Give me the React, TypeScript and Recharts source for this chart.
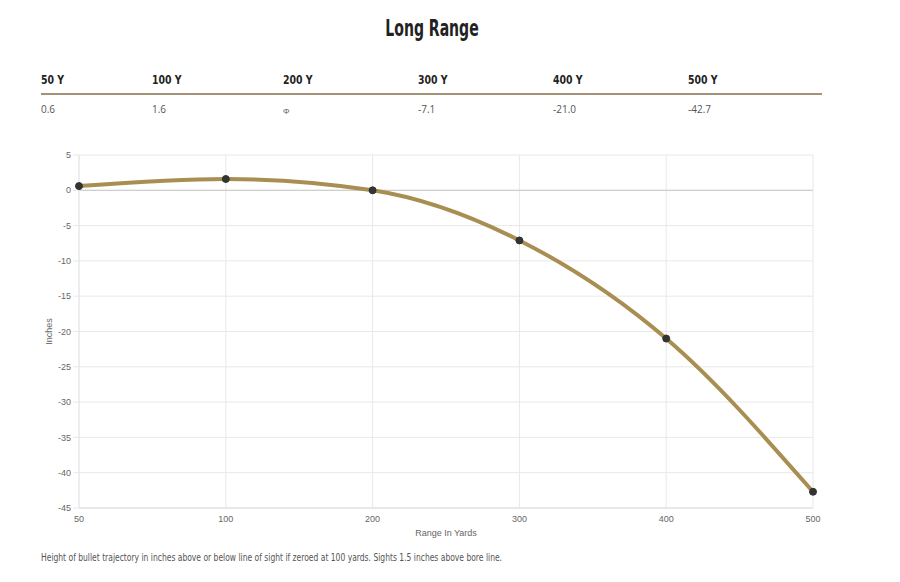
import React from "react";
import { LineChart, Line, XAxis, YAxis, CartesianGrid, ReferenceLine, Label } from "recharts";

const yards = ["50", "100", "200", "300", "400", "500"];
const drop = [0.6, 1.6, 0, -7.1, -21.0, -42.7];
const tableHeaders = ["50 Y", "100 Y", "200 Y", "300 Y", "400 Y", "500 Y"];
const tableValues = ["0.6", "1.6", "Φ", "-7.1", "-21.0", "-42.7"];
const yTicks = [5, 0, -5, -10, -15, -20, -25, -30, -35, -40, -45];

const data = yards.map((y, i) => ({ yards: y, drop: drop[i] }));

const colX = [41, 152, 283, 418, 553, 688];
const heading = "'DejaVu Sans', sans-serif";

export default function App() {
  return (
    <div style={{ position: "absolute", left: 0, top: 0, width: 900, height: 582, background: "#fff" }}>
      <div
        style={{
          position: "absolute",
          left: 0,
          width: 864,
          top: 15,
          textAlign: "center",
          fontFamily: heading,
          fontWeight: 700,
          fontSize: 23,
          color: "#222",
          transform: "scaleX(0.61)",
          transformOrigin: "432px 0",
          whiteSpace: "nowrap",
        }}
      >
        Long Range
      </div>
      {tableHeaders.map((h, i) => (
        <div
          key={h}
          style={{
            position: "absolute",
            left: colX[i],
            top: 73,
            fontFamily: heading,
            fontWeight: 700,
            fontSize: 12,
            color: "#222",
            transform: "scaleX(0.78)",
            transformOrigin: "0 0",
            whiteSpace: "nowrap",
          }}
        >
          {h}
        </div>
      ))}
      <div style={{ position: "absolute", left: 41, top: 93, width: 781, height: 2, background: "#a39276" }} />
      {tableValues.map((v, i) => (
        <div
          key={i}
          style={{
            position: "absolute",
            left: colX[i],
            top: v === "Φ" ? 105 : 102,
            fontFamily: "'Open Sans', sans-serif",
            fontSize: v === "Φ" ? 8 : 10,
            color: "#555",
          }}
        >
          {v}
        </div>
      ))}
      <div style={{ position: "absolute", left: 0, top: 0 }}>
        <LineChart width={900} height={545} data={data} margin={{ top: 155, right: 87, bottom: 7, left: 29 }}>
          <CartesianGrid stroke="#e8e8e8" strokeWidth={1} />
          <XAxis
            dataKey="yards"
            tick={{ fontSize: 9, fill: "#666", fontFamily: "'Liberation Sans', Arial, sans-serif" }}
            tickLine={false}
            axisLine={{ stroke: "#ddd" }}
            interval={0}
            height={30}
          >
            <Label value="Range In Yards" position="insideBottom" offset={2} style={{ fontSize: 9, fill: "#666", fontFamily: "'Liberation Sans', Arial, sans-serif" }} />
          </XAxis>
          <YAxis
            domain={[-45, 5]}
            ticks={yTicks}
            interval={0}
            width={50}
            tick={{ fontSize: 9, fill: "#666", fontFamily: "'Liberation Sans', Arial, sans-serif" }}
            tickLine={{ stroke: "#e8e8e8" }}
            tickSize={6}
            axisLine={{ stroke: "#e8e8e8" }}
          >
            <Label value="Inches" angle={-90} position="insideLeft" offset={20} style={{ fontSize: 9, fill: "#666", fontFamily: "'Liberation Sans', Arial, sans-serif", textAnchor: "middle" }} />
          </YAxis>
          <ReferenceLine y={0} stroke="#c8c8c8" strokeWidth={1} />
          <Line
            type="monotone"
            dataKey="drop"
            stroke="#a98e52"
            strokeWidth={4}
            dot={{ r: 3.5, fill: "#333", stroke: "#333", strokeWidth: 1 }}
            isAnimationActive={false}
          />
        </LineChart>
      </div>
      <div
        style={{
          position: "absolute",
          left: 41,
          top: 551,
          fontFamily: heading,
          fontSize: 11,
          color: "#555",
          transform: "scaleX(0.69)",
          transformOrigin: "0 0",
          whiteSpace: "nowrap",
        }}
      >
        Height of bullet trajectory in inches above or below line of sight if zeroed at 100 yards. Sights 1.5 inches above bore line.
      </div>
    </div>
  );
}
